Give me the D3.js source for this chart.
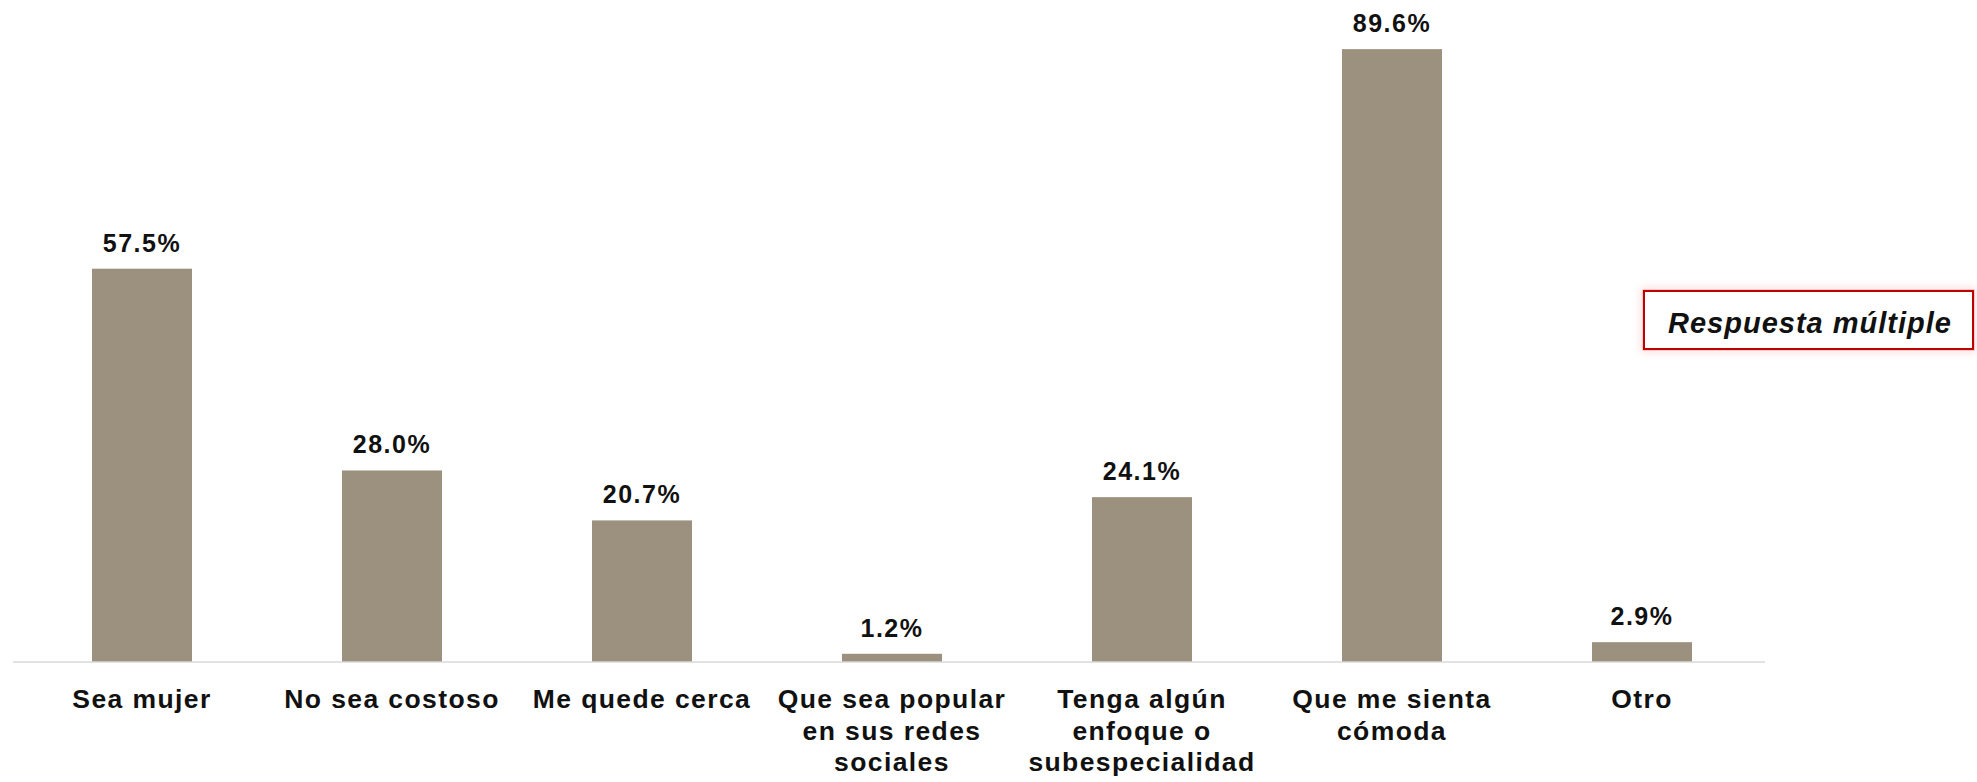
<!DOCTYPE html>
<html>
<head>
<meta charset="utf-8">
<script src="https://cdn.jsdelivr.net/npm/d3@7"></script>
<style>
  html, body { margin: 0; padding: 0; background: #ffffff; }
  svg { display: block; }
  text { font-family: "Liberation Sans", Arial, sans-serif; fill: #111; }
</style>
</head>
<body>
<svg id="chart" width="1977" height="782"></svg>
<script>
// ---- data ----
const categories = [
  ["Sea mujer"],
  ["No sea costoso"],
  ["Me quede cerca"],
  ["Que sea popular", "en sus redes", "sociales"],
  ["Tenga algún", "enfoque o", "subespecialidad"],
  ["Que me sienta", "cómoda"],
  ["Otro"]
];
const values = [57.5, 28.0, 20.7, 1.2, 24.1, 89.6, 2.9];
const valueLabels = ["57.5%", "28.0%", "20.7%", "1.2%", "24.1%", "89.6%", "2.9%"];
const noteText = "Respuesta múltiple";

// ---- layout ----
const svg = d3.select("#chart");
const baseY = 662;
const keys = categories.map((c, i) => "c" + i);

const x = d3.scaleBand()
  .domain(keys)
  .range([17, 1767])
  .paddingInner(0.6)
  .paddingOuter(0.3);

const y = d3.scaleLinear()
  .domain([0, 90])
  .range([baseY, baseY - 90 * 6.84]);

// glow filter for note box
const defs = svg.append("defs");
const f = defs.append("filter").attr("id", "glow")
  .attr("x", "-10%").attr("y", "-40%").attr("width", "120%").attr("height", "180%");
f.append("feGaussianBlur").attr("in", "SourceGraphic").attr("stdDeviation", 4).attr("result", "b");
const m = f.append("feMerge");
m.append("feMergeNode").attr("in", "b");
m.append("feMergeNode").attr("in", "SourceGraphic");

// bars
svg.append("g").selectAll("rect")
  .data(values)
  .join("rect")
  .attr("x", (d, i) => x(keys[i]))
  .attr("y", d => y(d))
  .attr("width", x.bandwidth())
  .attr("height", d => y(0) - y(d))
  .attr("fill", "#9b917e");

// axis line
svg.append("line")
  .attr("x1", 13).attr("x2", 1765)
  .attr("y1", baseY).attr("y2", baseY)
  .attr("stroke", "#d9d9d9").attr("stroke-width", 1.5);

// value labels
svg.append("g").selectAll("text")
  .data(values)
  .join("text")
  .attr("x", (d, i) => x(keys[i]) + x.bandwidth() / 2)
  .attr("y", d => y(d) - 17)
  .attr("text-anchor", "middle")
  .attr("font-size", 25)
  .attr("font-weight", "bold")
  .attr("letter-spacing", 1.5)
  .text((d, i) => valueLabels[i]);

// category labels
const cg = svg.append("g").selectAll("text")
  .data(categories)
  .join("text")
  .attr("x", (d, i) => x(keys[i]) + x.bandwidth() / 2)
  .attr("y", 708)
  .attr("text-anchor", "middle")
  .attr("font-size", 26.5)
  .attr("font-weight", "bold")
  .attr("letter-spacing", 1.4);
cg.each(function(lines, i) {
  const t = d3.select(this);
  const cx = x(keys[i]) + x.bandwidth() / 2;
  lines.forEach((ln, j) => {
    t.append("tspan").attr("x", cx).attr("y", 708 + j * 31.5).text(ln);
  });
});

// note box
svg.append("rect")
  .attr("x", 1644).attr("y", 291)
  .attr("width", 329).attr("height", 58)
  .attr("fill", "#ffffff")
  .attr("stroke", "#e04040").attr("stroke-width", 3)
  .attr("stroke-opacity", 0.5)
  .attr("filter", "url(#glow)");
svg.append("rect")
  .attr("x", 1644).attr("y", 291)
  .attr("width", 329).attr("height", 58)
  .attr("fill", "#ffffff")
  .attr("stroke", "#c00000").attr("stroke-width", 2);
svg.append("text")
  .attr("x", 1810).attr("y", 333)
  .attr("text-anchor", "middle")
  .attr("font-size", 29)
  .attr("font-weight", "bold")
  .attr("font-style", "italic")
  .attr("letter-spacing", 1)
  .text(noteText);
</script>
</body>
</html>
